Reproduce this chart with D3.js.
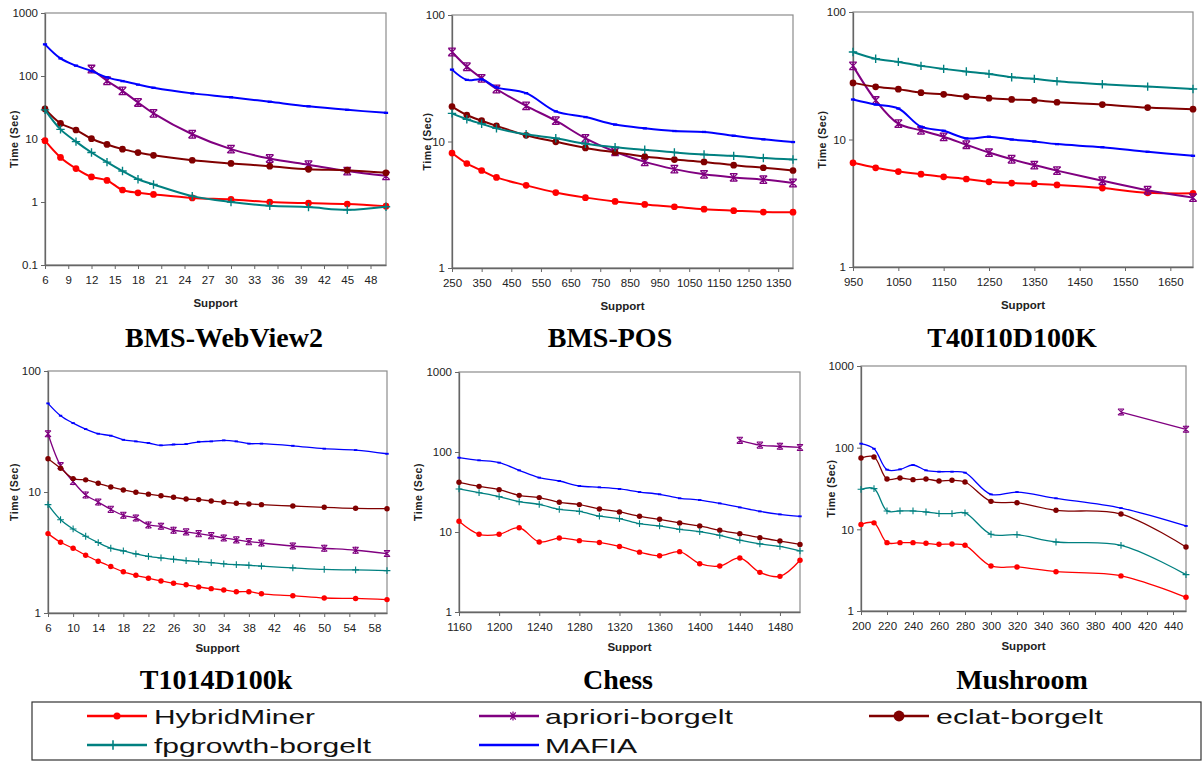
<!DOCTYPE html>
<html><head><meta charset="utf-8">
<script src="https://cdnjs.cloudflare.com/ajax/libs/d3/7.8.5/d3.min.js"></script>
<style>
html,body{margin:0;padding:0;background:#fff;}
svg{display:block;}
</style></head>
<body>
<svg id="chart" width="1203" height="761"></svg>
<script>
// ---------- DATA ----------
const seriesNames = ["HybridMiner","apriori-borgelt","eclat-borgelt","fpgrowth-borgelt","MAFIA"];
const seriesColors = ["#ff0000","#800080","#800000","#008080","#0000ff"];

// BMS-WebView2
const wv2Support = [6,8,10,12,14,16,18,20,25,30,35,40,45,50];
const wv2Hybrid  = [9.4,5.1,3.4,2.5,2.2,1.55,1.4,1.32,1.16,1.1,1.0,0.96,0.93,0.86];
const wv2Apriori = [null,null,null,129,84,58,38,25.5,11.9,6.9,4.9,3.9,3.1,2.6];
const wv2Eclat   = [30,17.7,13.9,10.1,8.2,6.9,6.1,5.5,4.6,4.1,3.7,3.3,3.2,2.9];
const wv2Fp      = [29,14.2,9.1,6.1,4.3,3.1,2.3,1.9,1.24,1.0,0.87,0.83,0.75,0.84];
const wv2Mafia   = [318,190,146,120,95,83,73,65,53,46,39,33,29,26];
const wv2XTicks  = [6,9,12,15,18,21,24,27,30,33,36,39,42,45,48];
const wv2YTicks  = [0.1,1,10,100,1000];

// BMS-POS
const posSupport = [250,300,350,400,500,600,700,800,900,1000,1100,1200,1300,1400];
const posHybrid  = [8.1,6.7,5.9,5.2,4.5,3.95,3.6,3.36,3.18,3.05,2.92,2.84,2.77,2.76];
const posApriori = [51,39,31.6,26,19.1,14.6,10.6,8.3,6.9,6.05,5.5,5.2,5.0,4.7];
const posEclat   = [18.9,16.2,14.6,13.3,11.2,9.95,8.9,8.2,7.6,7.2,6.9,6.5,6.2,5.9];
const posFp      = [16.7,15,13.8,12.7,11.4,10.6,9.6,9.0,8.6,8.2,7.9,7.7,7.4,7.2];
const posMafia   = [37,30.7,31,26.8,24.1,17.3,15.6,13.6,12.7,12.1,11.9,11.1,10.4,9.9];
const posXTicks  = [250,350,450,550,650,750,850,950,1050,1150,1250,1350];
const posYTicks  = [1,10,100];

// T40I10D100K
const t40Support = [950,1000,1050,1100,1150,1200,1250,1300,1350,1400,1500,1600,1700];
const t40Hybrid  = [6.56,6.0,5.6,5.35,5.1,4.9,4.66,4.55,4.5,4.4,4.16,3.82,3.78];
const t40Apriori = [37.8,20.3,13.3,11.8,10.5,9.1,7.9,7.0,6.3,5.7,4.75,4.0,3.5];
const t40Eclat   = [27.8,25.9,24.8,23.3,22.6,21.7,21.1,20.6,20.3,19.6,18.8,17.8,17.3];
const t40Fp      = [48.6,43,40.6,37.8,35.8,34.1,32.7,30.8,29.9,28.6,27.1,26,24.9];
const t40Mafia   = [20.6,18.8,17.5,12.6,11.7,10.2,10.5,10,9.65,9.2,8.7,8.0,7.45];
const t40XTicks  = [950,1050,1150,1250,1350,1450,1550,1650];
const t40YTicks  = [1,10,100];

// T1014D100k
const t10Support = [6,8,10,12,14,16,18,20,22,24,26,28,30,32,34,36,38,40,45,50,55,60];
const t10Hybrid  = [4.53,3.84,3.43,3.0,2.68,2.42,2.19,2.05,1.94,1.84,1.76,1.71,1.64,1.59,1.55,1.5,1.5,1.44,1.39,1.33,1.32,1.29];
const t10Apriori = [30.3,16.5,12.2,9.45,8.26,7.19,6.42,6.1,5.34,5.21,4.83,4.68,4.53,4.36,4.17,4.02,3.89,3.79,3.58,3.43,3.3,3.1];
const t10Eclat   = [18.8,15.7,12.9,12.6,11.8,11,10.4,9.94,9.6,9.3,9.04,8.75,8.65,8.43,8.22,8.06,7.96,7.86,7.66,7.47,7.33,7.28];
const t10Fp      = [7.86,5.9,4.95,4.31,3.82,3.43,3.26,3.08,2.94,2.85,2.78,2.71,2.66,2.61,2.55,2.51,2.48,2.44,2.36,2.29,2.27,2.24];
const t10Mafia   = [54,42.7,37.1,33.1,30.3,29.2,27,26.2,25.4,24.3,24.7,24.9,26,26.2,26.7,26.2,25.1,25.1,24.1,22.8,22.2,20.7];
const t10XTicks  = [6,10,14,18,22,26,30,34,38,42,46,50,54,58];
const t10YTicks  = [1,10,100];

// Chess
const chessSupport = [1160,1180,1200,1220,1240,1260,1280,1300,1320,1340,1360,1380,1400,1420,1440,1460,1480,1500];
const chessHybrid  = [13.6,9.35,9.35,11.3,7.5,8.4,7.8,7.4,6.6,5.6,5.06,5.68,4.02,3.76,4.73,3.13,2.79,4.43];
const chessApriori = [null,null,null,null,null,null,null,null,null,null,null,null,null,null,140,122,118,114];
const chessEclat   = [41.8,37.2,33.8,28.7,26.9,23.5,22,19.4,17.8,15.7,14.4,12.96,11.9,10.5,9.5,8.5,7.7,7.0];
const chessFp      = [34.5,31,27.7,23.9,22.2,19.2,18.1,15.8,14.7,12.7,11.9,10.8,10.1,9.1,7.9,7.1,6.6,5.8];
const chessMafia   = [84.9,78.7,73.6,59,47.8,43.4,37.6,36.2,34.5,31.6,29.6,26.4,25.1,22.8,20.3,18.1,16.6,15.7];
const chessXTicks  = [1160,1200,1240,1280,1320,1360,1400,1440,1480];
const chessYTicks  = [1,10,100,1000];

// Mushroom
const mushSupport = [200,210,220,230,240,250,260,270,280,300,320,350,400,450];
const mushHybrid  = [11.5,12,6.87,6.87,6.87,6.74,6.55,6.6,6.37,3.56,3.46,3.03,2.69,1.47];
const mushApriori = [null,null,null,null,null,null,null,null,null,null,null,null,273,168];
const mushEclat   = [74.7,76.9,41.3,42.5,40.6,41.3,39.1,39.8,38,22,21.2,17.1,15.4,6.08];
const mushFp      = [30.9,31.5,16.8,16.8,16.8,16.3,15.6,15.6,15.9,8.7,8.6,7.0,6.37,2.79];
const mushMafia   = [112,97,53.8,54.3,61.3,52.8,50.8,50.8,49.4,26.8,28.6,24,18.2,11];
const mushXTicks  = [200,220,240,260,280,300,320,340,360,380,400,420,440];
const mushYTicks  = [1,10,100,1000];

const panelTitles = ["BMS-WebView2","BMS-POS","T40I10D100K","T1014D100k","Chess","Mushroom"];

// ---------- LAYOUT ----------
const panels = [
  {title:panelTitles[0], xs:wv2Support, series:[wv2Hybrid,wv2Apriori,wv2Eclat,wv2Fp,wv2Mafia], xd:[6,50], yd:[0.1,1000], xt:wv2XTicks, yt:wv2YTicks,
   L:45, R:386, T:13, B:265, ylabX:14, titleX:224, titleY:347, top:true},
  {title:panelTitles[1], xs:posSupport, series:[posHybrid,posApriori,posEclat,posFp,posMafia], xd:[250,1400], yd:[1,100], xt:posXTicks, yt:posYTicks,
   L:452, R:793, T:15, B:268, ylabX:427, titleX:610, titleY:347, top:true},
  {title:panelTitles[2], xs:t40Support, series:[t40Hybrid,t40Apriori,t40Eclat,t40Fp,t40Mafia], xd:[950,1700], yd:[1,100], xt:t40XTicks, yt:t40YTicks,
   L:853, R:1193, T:12, B:267, ylabX:822, titleX:1012, titleY:347, top:true},
  {title:panelTitles[3], xs:t10Support, series:[t10Hybrid,t10Apriori,t10Eclat,t10Fp,t10Mafia], xd:[6,60], yd:[1,100], xt:t10XTicks, yt:t10YTicks,
   L:48, R:387, T:371, B:613, ylabX:14, titleX:216, titleY:689, top:false},
  {title:panelTitles[4], xs:chessSupport, series:[chessHybrid,chessApriori,chessEclat,chessFp,chessMafia], xd:[1160,1500], yd:[1,1000], xt:chessXTicks, yt:chessYTicks,
   L:459, R:800, T:372, B:612, ylabX:418, titleX:618, titleY:689, top:false},
  {title:panelTitles[5], xs:mushSupport, series:[mushHybrid,mushApriori,mushEclat,mushFp,mushMafia], xd:[200,450], yd:[1,1000], xt:mushXTicks, yt:mushYTicks,
   L:861, R:1186, T:366, B:611, ylabX:831, titleX:1022, titleY:689, top:false}
];
const markerTypes = ["circle","star","circle","plus","dash"];

const svg = d3.select("#chart");

function drawMarker(g, type, x, y, color, s) {
  if (type === "circle") {
    g.append("circle").attr("cx",x).attr("cy",y).attr("r",3.2*s).attr("fill",color);
  } else if (type === "plus") {
    g.append("path").attr("d",`M${x-4*s},${y}H${x+4*s}M${x},${y-4*s}V${y+4*s}`)
      .attr("stroke",color).attr("stroke-width",1.3*s).attr("fill","none");
  } else if (type === "star") {
    const r = 3.6*s;
    g.append("path").attr("d",`M${x-r},${y-r}L${x+r},${y+r}M${x-r},${y+r}L${x+r},${y-r}M${x},${y-r-0.6}V${y+r+0.6}M${x-r},${y-r}H${x+r}M${x-r},${y+r}H${x+r}`)
      .attr("stroke",color).attr("stroke-width",1.2*s).attr("fill","none");
  } else if (type === "asterisk") {
    const r = 4.5*s;
    g.append("path").attr("d",`M${x-r},${y}H${x+r}M${x-r*0.6},${y-r*0.8}L${x+r*0.6},${y+r*0.8}M${x-r*0.6},${y+r*0.8}L${x+r*0.6},${y-r*0.8}M${x},${y-r}V${y+r}`)
      .attr("stroke",color).attr("stroke-width",1.2).attr("fill","none");
  } else if (type === "dash") {
    g.append("path").attr("d",`M${x-2*s},${y}H${x+2*s}`)
      .attr("stroke",color).attr("stroke-width",2.2*s).attr("fill","none");
  }
}

panels.forEach(p => {
  const g = svg.append("g");
  const x = d3.scaleLinear().domain(p.xd).range([p.L, p.R]);
  const y = d3.scaleLog().domain(p.yd).range([p.B, p.T]);
  const frame = "#8c8c8c";

  g.append("rect").attr("x",p.L).attr("y",p.T).attr("width",p.R-p.L).attr("height",p.B-p.T)
    .attr("fill","#fff").attr("stroke",frame).attr("stroke-width",1.2);

  const xAxis = d3.axisBottom(x).tickValues(p.xt).tickSize(4).tickSizeOuter(0).tickFormat(d3.format("d"));
  const gx = g.append("g").attr("transform",`translate(0,${p.B})`).call(xAxis);
  gx.select(".domain").attr("stroke","#666").attr("stroke-width",1.3);
  gx.selectAll(".tick line").attr("stroke","#666");
  gx.selectAll(".tick text").attr("font-family","Liberation Sans, Arial, sans-serif").attr("font-size",11.5).attr("fill","#222").attr("dy","1.0em");

  const yAxis = d3.axisLeft(y).tickValues(p.yt).tickSize(4).tickSizeOuter(0).tickFormat(d => d < 1 ? "0.1" : d3.format("d")(d));
  const gy = g.append("g").attr("transform",`translate(${p.L},0)`).call(yAxis);
  gy.select(".domain").attr("stroke","#666").attr("stroke-width",1.3);
  gy.selectAll(".tick line").attr("stroke","#666");
  gy.selectAll(".tick text").attr("font-family","Liberation Sans, Arial, sans-serif").attr("font-size",11.5).attr("fill","#222");

  g.append("text").attr("x",(p.L+p.R)/2).attr("y",p.B+ (p.top?42:39)).attr("text-anchor","middle")
    .attr("font-family","Liberation Sans, Arial, sans-serif").attr("font-weight","bold").attr("font-size",11.5).attr("fill","#222")
    .text("Support");
  g.append("text").attr("transform",`translate(${p.ylabX},${(p.T+p.B)/2}) rotate(-90)`).attr("text-anchor","middle").attr("dy","0.35em")
    .attr("font-family","Liberation Sans, Arial, sans-serif").attr("font-weight","bold").attr("font-size",10.5).attr("letter-spacing","0.5").attr("fill","#222")
    .text("Time (Sec)");

  g.append("text").attr("x",p.titleX).attr("y",p.titleY).attr("text-anchor","middle")
    .attr("font-family","Liberation Serif, Times New Roman, serif").attr("font-weight","bold").attr("font-size",28).attr("fill","#000")
    .text(p.title);

  const sw = p.top ? 2 : 1.3;
  const ms = p.top ? 1.05 : 0.85;
  p.series.forEach((vals, si) => {
    const pts = p.xs.map((xv,i)=>({x:xv, v:vals[i]}));
    const line = d3.line().defined(d => d.v != null).x(d => x(d.x)).y(d => y(d.v)).curve(d3.curveCatmullRom.alpha(0.5));
    g.append("path").attr("d", line(pts)).attr("fill","none").attr("stroke",seriesColors[si]).attr("stroke-width",sw);
    const mg = g.append("g");
    pts.filter(d => d.v != null).forEach(d => drawMarker(mg, markerTypes[si], x(d.x), y(d.v), seriesColors[si], ms));
  });
});

// ---------- LEGEND ----------
const leg = svg.append("g");
leg.append("rect").attr("x",32).attr("y",702).attr("width",1169).attr("height",58)
  .attr("fill","#fff").attr("stroke","#333").attr("stroke-width",1.2);
const legendPos = [
  {lx:87, ly:716, mx:117, tx:154, tw:161, mk:"circle", ms:1.1},
  {lx:479, ly:716, mx:513, tx:545, tw:188, mk:"asterisk", ms:1.0},
  {lx:869, ly:716, mx:899, tx:936, tw:167, mk:"circle", ms:1.7},
  {lx:87, ly:745, mx:113, tx:154, tw:217, mk:"plus", ms:1.2},
  {lx:479, ly:745, mx:null, tx:545, tw:92, mk:null, ms:1}
];
seriesNames.forEach((name, i) => {
  const lp = legendPos[i];
  leg.append("line").attr("x1",lp.lx).attr("x2",lp.lx+60).attr("y1",lp.ly).attr("y2",lp.ly)
    .attr("stroke",seriesColors[i]).attr("stroke-width",2.5);
  if (lp.mx != null) drawMarker(leg, lp.mk, lp.mx, lp.ly, seriesColors[i], lp.ms);
  leg.append("text").attr("x",lp.tx).attr("y",lp.ly).attr("dy","0.36em")
    .attr("font-family","Liberation Sans, Arial, sans-serif").attr("font-size",21).attr("fill","#111")
    .attr("textLength",lp.tw).attr("lengthAdjust","spacingAndGlyphs")
    .text(name);
});
</script>
</body></html>
